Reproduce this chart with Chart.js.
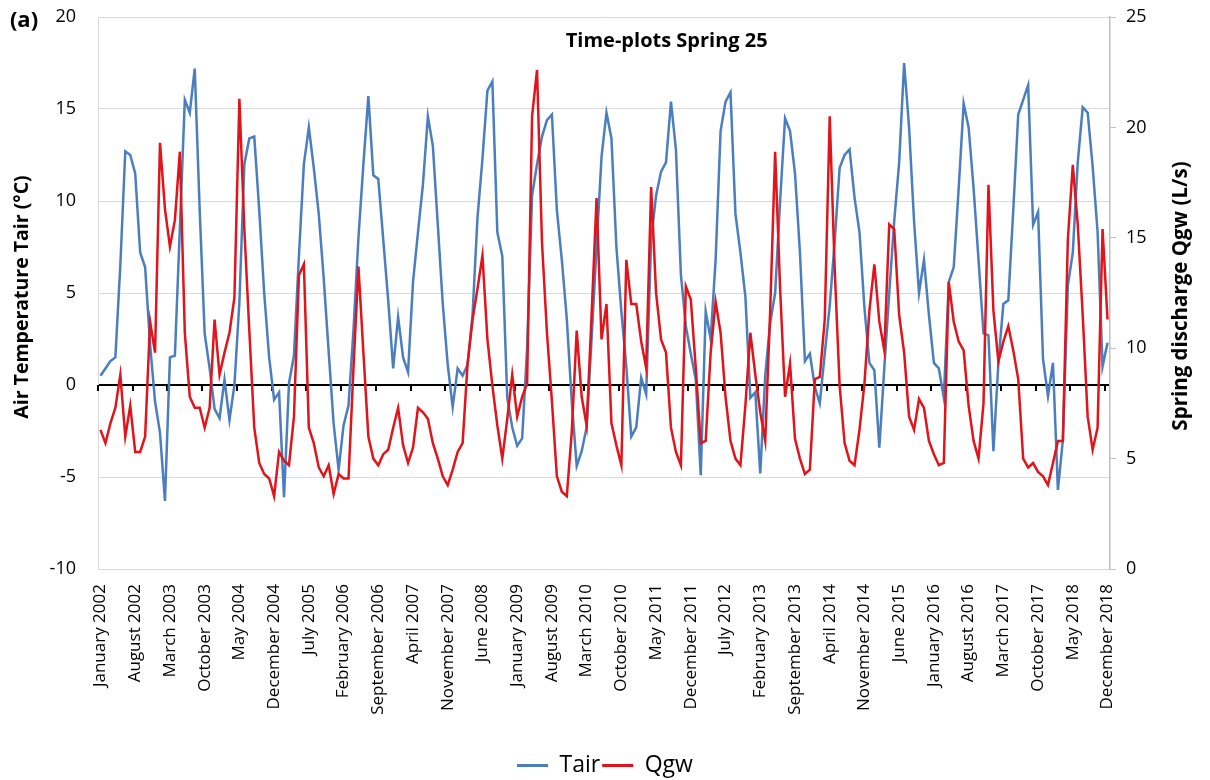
<!DOCTYPE html>
<html>
<head>
<meta charset="utf-8">
<title>Time-plots Spring 25</title>
<style>
*{padding:0;margin:0;box-sizing:border-box}
body{background:#ffffff;width:1210px;height:780px;overflow:hidden}
.wrapper{position:relative;width:1210px;height:780px}
</style>
</head>
<body>
<div class="wrapper"><canvas id="myChart"></canvas></div>
<script src="https://cdn.jsdelivr.net/npm/chart.js"></script>
<script>
// categories: one point per month, January 2002 .. December 2018
const monthNames = ['January', 'February', 'March', 'April', 'May', 'June', 'July',
  'August', 'September', 'October', 'November', 'December'];
const years = [2002, 2003, 2004, 2005, 2006, 2007, 2008, 2009, 2010, 2011, 2012, 2013, 2014, 2015, 2016, 2017, 2018];

// air temperature (°C), left axis, one row per year
const tair = [
  0.5, 0.9, 1.3, 1.5, 6.5, 12.7, 12.5, 11.5, 7.2, 6.4, 2.2, -0.9,
  -2.6, -6.3, 1.5, 1.6, 8.5, 15.5, 14.8, 17.2, 9.5, 2.8, 0.9, -1.3,
  -1.8, 0.3, -1.9, 0.0, 4.5, 12.0, 13.4, 13.5, 9.5, 5.0, 1.5, -0.8,
  -0.4, -6.1, 0.1, 1.6, 7.0, 12.0, 14.0, 11.8, 9.3, 5.8, 1.8, -2.1,
  -4.6, -2.2, -1.1, 3.0, 8.0, 12.0, 15.7, 11.4, 11.2, 7.9, 4.6, 0.9,
  3.7, 1.5, 0.7, 5.6, 8.3, 10.9, 14.6, 13.0, 8.7, 4.4, 1.1, -1.2,
  0.9, 0.5, 1.1, 3.8, 9.1, 12.3, 16.0, 16.5, 8.3, 7.0, -0.7, -2.3,
  -3.3, -2.9, 2.0, 10.3, 12.0, 13.5, 14.4, 14.7, 9.5, 6.8, 3.6, -0.9,
  -4.4, -3.6, -2.3, 2.5, 7.5, 12.4, 14.8, 13.4, 7.5, 4.0, 1.0, -2.8,
  -2.3, 0.4, -0.5, 7.9, 10.3, 11.6, 12.1, 15.4, 12.8, 6.0, 3.2, 1.7,
  0.3, -4.9, 4.0, 2.5, 6.8, 13.8, 15.4, 15.9, 9.3, 7.2, 4.8, -0.7,
  -0.4, -4.8, 0.5, 3.4, 5.0, 10.0, 14.5, 13.8, 11.5, 7.2, 1.3, 1.7,
  -0.1, -1.0, 1.7, 4.3, 7.8, 11.8, 12.5, 12.8, 10.2, 8.3, 4.2, 1.2,
  0.8, -3.4, 0.9, 5.0, 8.9, 12.1, 17.5, 14.0, 8.9, 5.0, 6.8, 3.8,
  1.2, 0.9, -0.7, 5.6, 6.4, 10.7, 15.3, 14.0, 10.7, 6.8, 2.8, 2.7,
  -3.6, 1.2, 4.4, 4.6, 9.5, 14.7, 15.5, 16.3, 8.7, 9.4, 1.4, -0.6,
  1.2, -5.7, -3.0, 5.4, 7.2, 12.1, 15.1, 14.8, 11.9, 8.3, 1.0, 2.3
];

// spring discharge (L/s), right axis
const qgw = [
  6.3, 5.7, 6.6, 7.3, 8.8, 6.0, 7.4, 5.3, 5.3, 6.0, 11.2, 9.8,
  19.3, 16.3, 14.6, 15.8, 18.9, 10.7, 7.8, 7.3, 7.3, 6.4, 7.3, 11.3,
  8.8, 9.8, 10.7, 12.3, 21.3, 15.4, 10.8, 6.4, 4.8, 4.3, 4.1, 3.3,
  5.3, 4.9, 4.7, 6.9, 13.3, 13.8, 6.4, 5.7, 4.6, 4.2, 4.7, 3.4,
  4.3, 4.1, 4.1, 9.1, 13.7, 9.8, 6.0, 5.0, 4.7, 5.2, 5.4, 6.4,
  7.3, 5.6, 4.8, 5.5, 7.3, 7.1, 6.8, 5.7, 5.0, 4.2, 3.8, 4.5,
  5.3, 5.7, 9.3, 11.3, 12.7, 14.2, 10.4, 8.3, 6.5, 5.0, 6.8, 8.8,
  6.9, 7.8, 8.4, 20.5, 22.6, 14.8, 10.7, 7.6, 4.2, 3.5, 3.3, 6.2,
  10.8, 7.8, 6.5, 11.5, 16.8, 10.4, 12.0, 6.6, 5.6, 4.7, 14.0, 12.0,
  12.0, 10.3, 9.1, 17.3, 12.5, 10.4, 9.8, 6.4, 5.3, 4.7, 12.8, 12.2,
  9.1, 5.7, 5.8, 9.8, 12.1, 10.7, 7.8, 5.8, 5.0, 4.7, 7.4, 10.7,
  8.8, 7.1, 5.8, 11.7, 18.9, 12.7, 7.8, 9.3, 5.9, 5.0, 4.3, 4.5,
  8.6, 8.7, 11.3, 20.5, 13.6, 8.3, 5.7, 4.9, 4.7, 6.3, 8.4, 11.7,
  13.8, 11.2, 9.9, 15.6, 15.4, 11.5, 9.8, 6.9, 6.3, 7.7, 7.3, 5.8,
  5.2, 4.7, 4.8, 13.0, 11.2, 10.3, 9.9, 7.4, 5.8, 5.0, 7.5, 17.4,
  11.7, 9.4, 10.3, 11.0, 9.9, 8.6, 5.0, 4.6, 4.8, 4.4, 4.2, 3.8,
  4.8, 5.8, 5.8, 14.9, 18.3, 15.6, 11.5, 6.9, 5.4, 6.4, 15.4, 11.3
];

const labelEvery = 7;
const leftAxis = { min: -10, max: 20, step: 5 };
const rightAxis = { min: 0, max: 25, step: 5 };

const labels = [];
years.forEach(y => monthNames.forEach(m => labels.push(m + ' ' + y)));

const fontFamily = "'Open Sans', 'DejaVu Sans', sans-serif";
Chart.defaults.font.family = fontFamily;
Chart.defaults.color = '#000000';

// titles drawn over the plot, plus the small black ticks on the zero line
const decor = {
  id: 'decor',
  beforeDatasetsDraw(chart) {
    const { ctx, scales: { x, y } } = chart;
    const half = (x.getPixelForValue(1) - x.getPixelForValue(0)) / 2;
    const y0 = y.getPixelForValue(0);
    ctx.save();
    ctx.strokeStyle = '#000000';
    ctx.lineWidth = 2;
    for (let i = 0; i < labels.length; i += labelEvery) {
      const px = Math.round(x.getPixelForValue(i) - half);
      ctx.beginPath();
      ctx.moveTo(px, y0);
      ctx.lineTo(px, y0 + 6);
      ctx.stroke();
    }
    ctx.restore();
  },
  afterDraw(chart) {
    const { ctx, chartArea: a } = chart;
    ctx.save();
    ctx.fillStyle = '#000000';
    ctx.textAlign = 'center';
    ctx.textBaseline = 'middle';
    ctx.font = 'bold 20px ' + fontFamily;
    ctx.fillText('Time-plots Spring 25', a.left + a.width * 0.562, a.top + 24);
    ctx.font = 'bold 22px ' + fontFamily;
    ctx.fillText('(a)', 24, 21);
    const midY = (a.top + a.bottom) / 2;
    ctx.font = 'bold 19.5px ' + fontFamily;
    ctx.translate(22, midY + 4);
    ctx.rotate(-Math.PI / 2);
    ctx.fillText('Air Temperature Tair (°C)', 0, 0);
    ctx.setTransform(1, 0, 0, 1, 0, 0);
    ctx.font = 'bold 20.5px ' + fontFamily;
    ctx.translate(1181, midY + 3);
    ctx.rotate(-Math.PI / 2);
    ctx.fillText('Spring discharge Qgw (L/s)', 0, 0);
    ctx.restore();
  }
};

const ctx = document.getElementById('myChart').getContext('2d');
const myChart = new Chart(ctx, {
  type: 'line',
  data: {
    labels: labels,
    datasets: [
      {
        label: 'Tair',
        data: tair,
        yAxisID: 'y',
        borderColor: '#4a7ebf',
        backgroundColor: '#4a7ebf',
        borderWidth: 2.5,
        pointRadius: 0,
        tension: 0,
        order: 1,
      },
      {
        label: 'Qgw',
        data: qgw,
        yAxisID: 'y1',
        borderColor: '#e0141a',
        backgroundColor: '#e0141a',
        borderWidth: 2.5,
        pointRadius: 0,
        tension: 0,
        order: 0,
      },
    ],
  },
  options: {
    responsive: true,
    maintainAspectRatio: false,
    animation: false,
    layout: {
      padding: { left: 0, right: 0, top: 17, bottom: -7 },
    },
    plugins: {
      tooltip: { enabled: false },
      title: { display: false },
      legend: {
        position: 'bottom',
        reverse: true,
        labels: {
          boxWidth: 31,
          boxHeight: 3,
          padding: 2,
          color: '#000000',
          font: { size: 23 },
          generateLabels: (chart) => Chart.defaults.plugins.legend.labels.generateLabels(chart)
            .map(item => Object.assign(item, { lineWidth: 0 })),
        },
      },
    },
    scales: {
      x: {
        type: 'category',
        offset: true,
        grid: { display: false, drawTicks: false },
        border: { display: true, color: '#d9d9d9', width: 1 },
        ticks: {
          autoSkip: false,
          minRotation: 90,
          maxRotation: 90,
          padding: 15,
          font: { size: 17 },
          color: '#000000',
          callback: (value, index) => index % labelEvery === 0 ? labels[index] : '',
        },
        afterFit: (scale) => { scale.height = 183; },
      },
      y: {
        position: 'left',
        min: leftAxis.min,
        max: leftAxis.max,
        ticks: { stepSize: leftAxis.step, padding: 4, font: { size: 18, lineHeight: 1 }, color: '#000000' },
        grid: {
          drawTicks: true,
          tickLength: 18,
          tickColor: 'rgba(0,0,0,0)',
          color: (c) => c.tick && c.tick.value === 0 ? '#000000' : '#d9d9d9',
          lineWidth: (c) => c.tick && c.tick.value === 0 ? 2 : 1,
        },
        border: { display: true, color: '#d9d9d9', width: 1 },
        afterFit: (scale) => { scale.width = 98; },
      },
      y1: {
        position: 'right',
        min: rightAxis.min,
        max: rightAxis.max,
        ticks: { stepSize: rightAxis.step, padding: 10, font: { size: 18, lineHeight: 0.7 }, color: '#000000' },
        grid: { drawOnChartArea: false, drawTicks: true, tickLength: 6, tickColor: '#bfbfbf' },
        border: { display: true, color: '#bfbfbf', width: 1.5 },
        afterFit: (scale) => { scale.width = 100; },
      },
    },
  },
  plugins: [decor],
});
</script>
</body>
</html>
